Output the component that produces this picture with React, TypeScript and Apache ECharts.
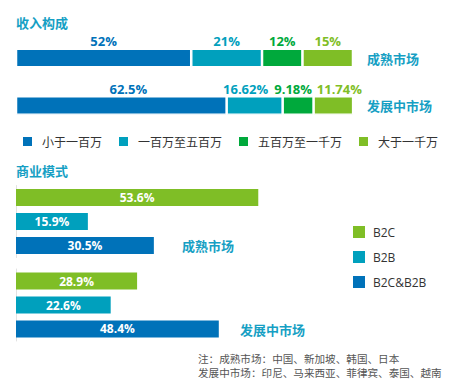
import React, { useEffect, useRef } from "react";
import * as echarts from "echarts";

const marketCats = ["成熟市场", "发展中市场"];
const incomeNames = ["小于一百万", "一百万至五百万", "五百万至一千万", "大于一千万"];
const incomeMature = [52, 21, 12, 15];
const incomeDeveloping = [62.5, 16.62, 9.18, 11.74];
const modelNames = ["B2C", "B2B", "B2C&B2B"];
const modelMature = [53.6, 15.9, 30.5];
const modelDeveloping = [28.9, 22.6, 48.4];
const titles = ["收入构成", "商业模式"];
const noteLines = ["注：成熟市场：中国、新加坡、韩国、日本", "发展中市场：印尼、马来西亚、菲律宾、泰国、越南"];

const incomeColors = ["#0072b9", "#00a0bd", "#00a93c", "#7fbe26"];
const modelColors = ["#7fbe26", "#00a0bd", "#0072b9"];
const devLabelOffsets = [7, -9, -5, 6];
const FONT = "'Open Sans', 'Noto Sans CJK SC', sans-serif";
const CJK = "'Noto Sans CJK SC', sans-serif";
const TEAL = "#169fc4";

export default function App() {
  const ref = useRef<HTMLDivElement>(null);
  useEffect(() => {
    const chart = echarts.init(ref.current!, undefined, { renderer: "svg" });

    const topSeries = incomeNames.map((name, i) => ({
      name,
      type: "bar",
      stack: "income",
      xAxisIndex: 0,
      yAxisIndex: 0,
      barWidth: 18.5,
      itemStyle: { color: incomeColors[i], borderColor: "#fff", borderWidth: 1.25 },
      label: {
        show: true,
        position: "top",
        distance: 1,
        color: incomeColors[i],
        fontFamily: FONT,
        fontWeight: "bold",
        fontSize: 13,
        formatter: (p: any) => `${p.value}%`,
      },
      data: [
        { value: incomeMature[i] },
        { value: incomeDeveloping[i], label: { offset: [devLabelOffsets[i], 0] } },
      ],
    }));

    const modelSeries: any[] = [];
    [modelMature, modelDeveloping].forEach((vals, g) => {
      modelNames.forEach((name, i) => {
        modelSeries.push({
          name,
          type: "bar",
          xAxisIndex: g + 1,
          yAxisIndex: g + 1,
          barWidth: 17,
          barGap: "41%",
          itemStyle: { color: modelColors[i] },
          label: {
            show: true,
            position: "inside",
            color: "#fff",
            fontFamily: FONT,
            fontWeight: "bold",
            fontSize: 12,
            formatter: (p: any) => `${p.value}%`,
          },
          data: [vals[i]],
        });
      });
    });

    const hiddenX = (max: number, gi: number) => ({
      type: "value",
      gridIndex: gi,
      min: 0,
      max,
      show: false,
    });

    chart.setOption({
      animation: false,
      backgroundColor: "#fff",
      grid: [
        { left: 16, top: 34.25, width: 337, height: 95 },
        { left: 16, top: 185.5, width: 452, height: 72 },
        { left: 16, top: 269, width: 419, height: 72 },
      ],
      xAxis: [hiddenX(100, 0), hiddenX(100, 1), hiddenX(100, 2)],
      yAxis: [
        {
          type: "category",
          gridIndex: 0,
          data: marketCats,
          inverse: true,
          position: "right",
          axisLine: { show: false },
          axisTick: { show: false },
          axisLabel: {
            margin: 14,
            align: "left",
            color: TEAL,
            fontFamily: CJK,
            fontWeight: "bold",
            fontSize: 13,
          },
        },
        ...[0, 1].map((g) => ({
          type: "category",
          gridIndex: g + 1,
          data: [marketCats[g]],
          inverse: true,
          axisLine: { show: true, lineStyle: { color: "#e2e2e2", width: 1 } },
          axisTick: { show: false },
          axisLabel: { show: false },
        })),
      ],
      legend: [
        {
          data: incomeNames,
          left: 16,
          top: 130,
          icon: "rect",
          itemWidth: 11,
          itemHeight: 11,
          itemGap: 15,
          textStyle: { color: "#333", fontFamily: CJK, fontSize: 12, padding: [0, 0, 0, 4] },
        },
        {
          data: modelNames,
          orient: "vertical",
          left: 348,
          top: 221,
          icon: "rect",
          itemWidth: 12,
          itemHeight: 12,
          itemGap: 13,
          textStyle: { color: "#333", fontFamily: FONT, fontSize: 12, padding: [0, 0, 0, 3] },
        },
      ],
      graphic: [
        {
          type: "text",
          left: 16,
          top: 16,
          style: { text: titles[0], fill: TEAL, font: `bold 13px ${CJK}` },
        },
        {
          type: "text",
          left: 16,
          top: 164,
          style: { text: titles[1], fill: TEAL, font: `bold 13px ${CJK}` },
        },
        {
          type: "text",
          x: 182,
          y: 245,
          style: { text: marketCats[0], fill: TEAL, font: `bold 13px ${CJK}`, verticalAlign: "middle" },
        },
        {
          type: "text",
          x: 240,
          y: 329,
          style: { text: marketCats[1], fill: TEAL, font: `bold 13px ${CJK}`, verticalAlign: "middle" },
        },
        {
          type: "text",
          x: 198,
          y: 358,
          style: { text: noteLines[0], fill: "#555", font: `10.6px ${CJK}`, verticalAlign: "middle" },
        },
        {
          type: "text",
          x: 198,
          y: 372,
          style: { text: noteLines[1], fill: "#555", font: `10.6px ${CJK}`, verticalAlign: "middle" },
        },
      ],
      series: [...topSeries, ...modelSeries],
    });
    return () => chart.dispose();
  }, []);
  return (
    <div
      ref={ref}
      style={{ position: "fixed", left: 0, top: 0, width: 471, height: 385, background: "#fff" }}
    />
  );
}
